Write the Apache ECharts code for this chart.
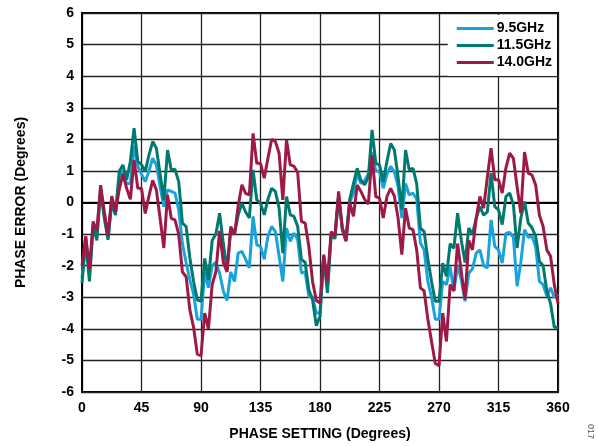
<!DOCTYPE html>
<html>
<head>
<meta charset="utf-8">
<script src="https://cdn.jsdelivr.net/npm/echarts@6/dist/echarts.min.js"></script>
<style>
html,body{margin:0;padding:0;background:#fff;}
#c{width:598px;height:446px;}
</style>
</head>
<body>
<div id="c"></div>
<script>
// Phase setting grid (degrees), 7-bit step
const phaseStep = 2.8125;
const xTicks = [0, 45, 90, 135, 180, 225, 270, 315, 360];
const yTicks = [-6, -5, -4, -3, -2, -1, 0, 1, 2, 3, 4, 5, 6];
const seriesNames = ['9.5GHz', '11.5GHz', '14.0GHz'];

const err9p5 = [
-2.4,-1.1,-2.3,-0.7,-1.0,0.45,-0.4,-1.1,0.1,-0.35,
0.8,1.0,0.6,0.6,1.8,1.14,0.9,0.66,1.0,1.4,
1.19,0.5,-0.13,0.4,0.35,0.3,-0.23,-1.3,-1.9,-2.45,
-2.9,-3.7,-3.7,-2.2,-2.7,-2.0,-1.9,-2.24,-2.8,-3.1,
-2.2,-2.5,-1.6,-1.55,-1.8,-2.07,-0.44,-1.34,-1.39,-1.8,
-1.07,-0.76,-0.92,-1.7,-2.5,-0.81,-1.23,-0.97,-1.18,-2.23,
-2.2,-2.97,-3.0,-3.5,-3.5,-1.7,-2.7,-1.0,-1.1,0.2,
-0.85,-1.2,0.0,0.3,0.93,0.6,0.7,0.9,1.6,1.0,
1.0,0.45,0.9,1.14,0.98,0.5,-0.49,0.6,0.24,0.3,
0.1,-1.28,-1.5,-2.5,-3.0,-3.7,-3.7,-2.5,-2.6,-2.03,
-2.8,-2.0,-2.45,-3.13,-2.24,-2.1,-1.6,-1.5,-2.0,-2.07,
-0.55,-1.39,-1.5,-1.92,-0.97,-0.95,-1.1,-2.65,-1.9,-0.86,
-1.1,-1.07,-1.4,-2.5,-2.6,-2.97,-2.7,-3.0,-2.9
];

const err11p5 = [
-2.55,-1.2,-2.5,-0.75,-1.2,0.4,-0.5,-1.18,0.0,-0.4,
0.98,1.19,0.72,1.3,2.35,1.3,1.2,0.98,1.5,1.93,
1.72,0.9,0.08,1.66,1.03,1.05,0.66,-0.65,-0.76,-1.75,
-2.5,-3.08,-3.13,-1.77,-2.45,-1.2,-1.0,-0.34,-1.3,-2.13,
-0.86,-1.0,-0.4,-0.02,-0.3,-0.49,1.03,0.08,-0.02,-0.39,
0.1,0.45,0.35,-0.18,-1.6,0.19,-0.39,-0.44,-0.76,-1.8,
-1.9,-2.76,-3.07,-3.9,-3.6,-1.7,-2.86,-1.0,-1.15,0.2,
-0.8,-1.1,0.1,0.6,1.08,0.7,0.56,0.8,2.3,1.24,
1.19,0.66,1.3,1.87,1.66,0.8,-0.23,1.66,1.03,1.08,
0.6,-0.81,-0.92,-1.8,-2.5,-3.13,-3.13,-1.92,-2.34,-1.3,
-1.45,-0.34,-1.2,-1.9,-0.81,-1.0,-0.5,-0.13,-0.4,-0.3,
0.93,-0.13,-0.23,-0.7,0.19,0.3,-0.07,-1.44,-0.5,0.03,
-0.65,-0.8,-1.07,-1.86,-2.0,-2.8,-3.2,-3.95,-3.95
];

const err14p0 = [
-2.0,-1.07,-2.1,-0.6,-0.9,0.55,-0.3,-1.05,0.2,-0.3,
0.4,0.9,0.45,0.1,1.35,0.45,0.45,-0.35,0.2,0.7,
0.4,-0.5,-1.44,0.24,-0.5,-0.55,-1.0,-2.2,-2.35,-3.4,
-3.95,-4.8,-4.85,-3.5,-4.0,-2.6,-2.2,-0.9,-1.9,-2.2,
-0.76,-1.02,-0.1,0.56,0.29,0.24,2.19,1.24,1.24,0.77,
1.4,2.0,1.93,1.56,0.08,1.98,1.19,1.15,0.95,-0.6,
-0.65,-1.4,-2.5,-3.1,-3.18,-1.65,-2.5,-0.92,-1.07,0.35,
-0.86,-1.23,0.0,-0.44,0.55,0.35,0.1,-0.05,1.5,0.19,
0.14,-0.49,0.19,0.45,0.2,-0.5,-1.65,-0.18,-0.81,-0.86,
-1.5,-2.7,-2.8,-3.7,-4.4,-5.1,-5.17,-3.5,-4.4,-2.6,
-2.8,-1.3,-2.2,-3.07,-1.2,-1.5,-0.5,0.19,-0.18,0.8,
1.72,0.72,0.72,0.3,1.1,1.56,1.4,0.5,-0.34,1.6,
0.93,0.87,0.55,-0.4,-0.76,-1.5,-1.7,-2.6,-3.2
];

const colors = ['#19a3dc', '#00796f', '#9d1a47'];
const FONT = '"Liberation Sans", Arial, sans-serif';

function pairs(vals) {
  return vals.map((v, i) => [i * phaseStep, v]);
}

const chart = echarts.init(document.getElementById('c'), null, {renderer: 'canvas'});
chart.setOption({
  animation: false,
  backgroundColor: '#fff',
  color: colors,
  grid: {left: 82, top: 13, right: 40, bottom: 53, show: true, borderColor: '#000', borderWidth: 2, backgroundColor: 'transparent'},
  legend: {
    orient: 'vertical', right: 41, top: 15,
    backgroundColor: '#fff', padding: [6, 5, 6, 9],
    icon: 'rect', itemWidth: 37, itemHeight: 3, itemGap: 2,
    data: seriesNames,
    textStyle: {fontFamily: FONT, fontWeight: 'bold', fontSize: 14, color: '#000', lineHeight: 15, padding: [0,0,0,-2]}
  },
  xAxis: {
    type: 'value', min: xTicks[0], max: xTicks[xTicks.length - 1], interval: 45,
    name: 'PHASE SETTING (Degrees)', nameLocation: 'middle', nameGap: 35,
    nameTextStyle: {fontFamily: FONT, fontWeight: 'bold', fontSize: 14, color: '#000'},
    axisLine: {show: true, lineStyle: {color: '#000', width: 2}},
    axisTick: {show: false},
    axisLabel: {fontFamily: FONT, fontWeight: 'bold', fontSize: 14, color: '#000', margin: 9},
    splitLine: {show: true, lineStyle: {color: '#222', width: 1.3}}
  },
  yAxis: {
    type: 'value', min: yTicks[0], max: yTicks[yTicks.length - 1], interval: 1,
    name: 'PHASE ERROR (Degrees)', nameLocation: 'middle', nameGap: 54,
    nameTextStyle: {fontFamily: FONT, fontWeight: 'bold', fontSize: 14, color: '#000'},
    axisLine: {show: true, lineStyle: {color: '#000', width: 2}},
    axisTick: {show: false},
    axisLabel: {fontFamily: FONT, fontWeight: 'bold', fontSize: 14, color: '#000', margin: 8},
    splitLine: {show: true, lineStyle: {color: '#222', width: 1.3}}
  },
  series: [
    {name: seriesNames[0], type: 'line', data: pairs(err9p5), symbol: 'none', lineStyle: {width: 3, color: colors[0]}, z: 3},
    {name: seriesNames[1], type: 'line', data: pairs(err11p5), symbol: 'none', lineStyle: {width: 3, color: colors[1]}, z: 4},
    {name: seriesNames[2], type: 'line', data: pairs(err14p0), symbol: 'none', lineStyle: {width: 3, color: colors[2]}, z: 5}
  ],
  graphic: [{
    type: 'text', left: 586, top: 424, rotation: -Math.PI / 2,
    style: {text: '017', fontFamily: FONT, fontSize: 9, fill: '#555'}
  }]
});
</script>
</body>
</html>
